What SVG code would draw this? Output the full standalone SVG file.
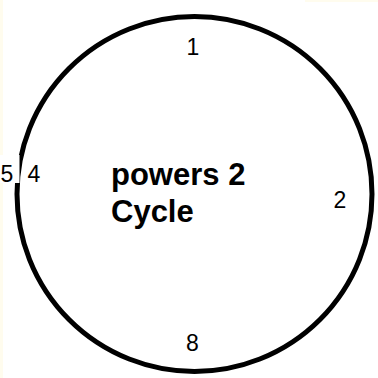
<svg xmlns="http://www.w3.org/2000/svg" width="378" height="378" viewBox="0 0 378 378">
<style>
.lbl{font-family:"Liberation Sans",Arial,sans-serif;font-size:23px;fill:#000;text-anchor:middle}
.title{font-family:"Liberation Sans",Arial,sans-serif;font-size:31px;font-weight:bold;fill:#000}
</style>
<rect x="0" y="0" width="378" height="378" fill="#fffcee"/>
<rect x="3" y="0" width="375" height="378" fill="#ffffff"/>
<rect x="305" y="0" width="73" height="2" fill="#fffcee"/>
<g id="connectors">
<circle cx="194.5" cy="194" r="177.5" fill="none" stroke="#000" stroke-width="5"/>
</g>
<g id="node-1"><text class="lbl" x="193" y="55">1</text></g>
<g id="node-2"><text class="lbl" x="340" y="208">2</text></g>
<g id="node-4"><text class="lbl" x="34" y="182">4</text></g>
<g id="node-8"><text class="lbl" x="192.5" y="351">8</text></g>
<g id="node-5"><rect x="0" y="155" width="19.5" height="28" fill="#fff"/><text class="lbl" x="7" y="182">5</text></g>
<g id="title"><text class="title" x="111" y="185">powers 2</text><text class="title" x="111" y="222">Cycle</text></g>
</svg>
